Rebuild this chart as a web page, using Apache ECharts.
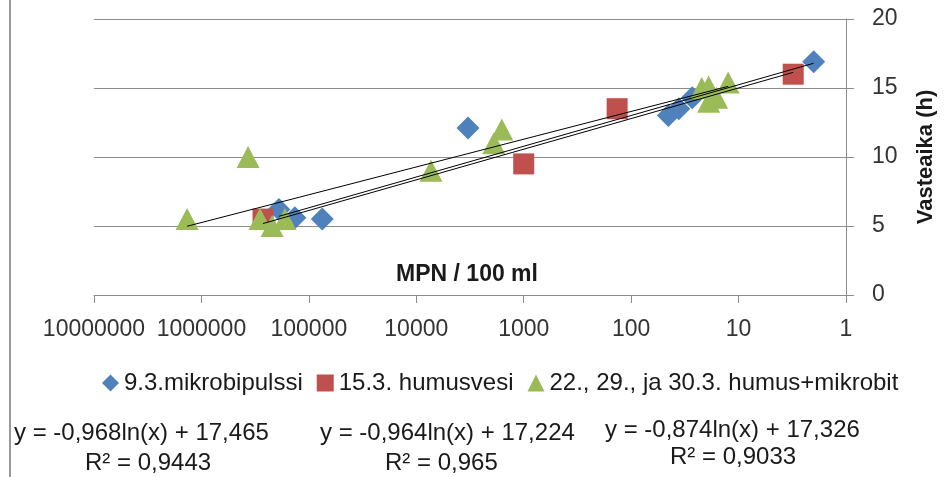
<!DOCTYPE html>
<html><head><meta charset="utf-8">
<script src="https://cdn.jsdelivr.net/npm/echarts@6/dist/echarts.min.js"></script>
<style>html,body{margin:0;padding:0;background:#fff}#chart{width:947px;height:477px}</style>
</head><body><div id="chart"></div>
<script>
// Response time (h) versus MPN / 100 ml for three sampling groups
const seriesNames = ['9.3.mikrobipulssi', '15.3. humusvesi', '22., 29., ja 30.3. humus+mikrobit'];
const mikroMPN   = [190000, 135000, 75000, 3300, 45, 36, 27, 2];
const mikroHours = [6.2, 5.6, 5.5, 12.1, 13.0, 13.5, 14.3, 16.9];
const humusMPN   = [267000, 1000, 135, 3.1];
const humusHours = [5.5, 9.5, 13.5, 16.0];
const mixMPN     = [1360000, 368000, 285000, 220000, 167000, 7300, 1900, 1600, 22, 19, 19, 16, 12.5];
const mixHours   = [5.5, 10.0, 5.5, 5.0, 5.5, 9.0, 11.0, 12.0, 15.0, 15.1, 14.0, 14.3, 15.4];
// logarithmic trendlines: y = a*ln(x) + b
const trendA  = [-0.968, -0.964, -0.874];
const trendB  = [17.465, 17.224, 17.326];
const trendR2 = ['0,9443', '0,965', '0,9033'];

const FONT = 'Liberation Sans, Arial, sans-serif';
const TEXT = '#1a1a1a';
const colors = ['#4F81BD', '#C0504D', '#9BBB59'];
const symbols = ['diamond', 'rect', 'triangle'];
const sizes = [23, 21, [23, 22]];
const groups = [[mikroMPN, mikroHours], [humusMPN, humusHours], [mixMPN, mixHours]];

const pairs = (xs, ys) => xs.map((x, i) => [x, ys[i]]);
// a log fit is a straight line on a log axis, so its two end points are enough
const trend = (xs, k) => {
  const lo = Math.min(...xs), hi = Math.max(...xs);
  return [lo, hi].map(x => [x, trendA[k] * Math.log(x) + trendB[k]]);
};
const dec = v => v.toFixed(3).replace('.', ',');

const series = [];
groups.forEach((g, k) => {
  series.push({
    name: seriesNames[k], type: 'scatter', data: pairs(g[0], g[1]),
    symbol: symbols[k], symbolSize: sizes[k], itemStyle: { color: colors[k], opacity: 1 }, z: 3
  });
});
groups.forEach((g, k) => {
  series.push({
    name: 'trend' + k, type: 'line', data: trend(g[0], k), symbol: 'none',
    lineStyle: { color: '#000', width: 1 }, silent: true, z: 4
  });
});

const eqPos = [[14, 433, 85, 463], [320, 433, 385, 463], [605, 430, 670, 457]];
const graphics = [
  { type: 'line', shape: { x1: 10, y1: 0, x2: 10, y2: 477 }, style: { stroke: '#9a9a9a', lineWidth: 2 } },
  { type: 'text', x: 467, y: 275, style: { text: 'MPN / 100 ml', font: 'bold 23px ' + FONT, fill: TEXT, align: 'center', verticalAlign: 'middle' } },
  { type: 'text', x: 926, y: 157, rotation: Math.PI / 2, style: { text: 'Vasteaika (h)', font: 'bold 22px ' + FONT, fill: TEXT, align: 'center', verticalAlign: 'middle' } }
];
eqPos.forEach((p, k) => {
  graphics.push({ type: 'text', x: p[0], y: p[1], style: { text: 'y = ' + dec(trendA[k]) + 'ln(x) + ' + dec(trendB[k]), font: '24px ' + FONT, fill: TEXT, verticalAlign: 'middle' } });
  graphics.push({ type: 'text', x: p[2], y: p[3], style: { text: 'R² = ' + trendR2[k], font: '24px ' + FONT, fill: TEXT, verticalAlign: 'middle' } });
});

const chart = echarts.init(document.getElementById('chart'), null, { renderer: 'canvas' });
chart.setOption({
  animation: false,
  backgroundColor: '#fff',
  grid: { left: 94, right: 101, top: 19, bottom: 182, outerBoundsMode: 'none' },
  xAxis: {
    type: 'log', logBase: 10, min: 1, max: 10000000, inverse: true, splitNumber: 7,
    axisLine: { show: true, lineStyle: { color: '#8c8c8c', width: 1 } },
    axisTick: { show: true, length: 8, lineStyle: { color: '#8c8c8c' } },
    minorTick: { show: false },
    splitLine: { show: false },
    axisLabel: { fontSize: 23, fontFamily: FONT, color: '#333', margin: 23, formatter: v => String(Math.round(v)) }
  },
  yAxis: {
    type: 'value', position: 'right', min: 0, max: 20, interval: 5,
    axisLine: { show: true, lineStyle: { color: '#8c8c8c', width: 1 } },
    axisTick: { show: true, length: 8, lineStyle: { color: '#8c8c8c' } },
    splitLine: { show: true, lineStyle: { color: '#8c8c8c', width: 1 } },
    axisLabel: { fontSize: 23, fontFamily: FONT, color: '#333', margin: 26 }
  },
  legend: {
    data: seriesNames, left: 97, top: 366, itemWidth: 17, itemHeight: 17, itemGap: 14,
    textStyle: { fontSize: 24, fontFamily: FONT, color: TEXT }
  },
  graphic: graphics,
  series: series
});
</script></body></html>
